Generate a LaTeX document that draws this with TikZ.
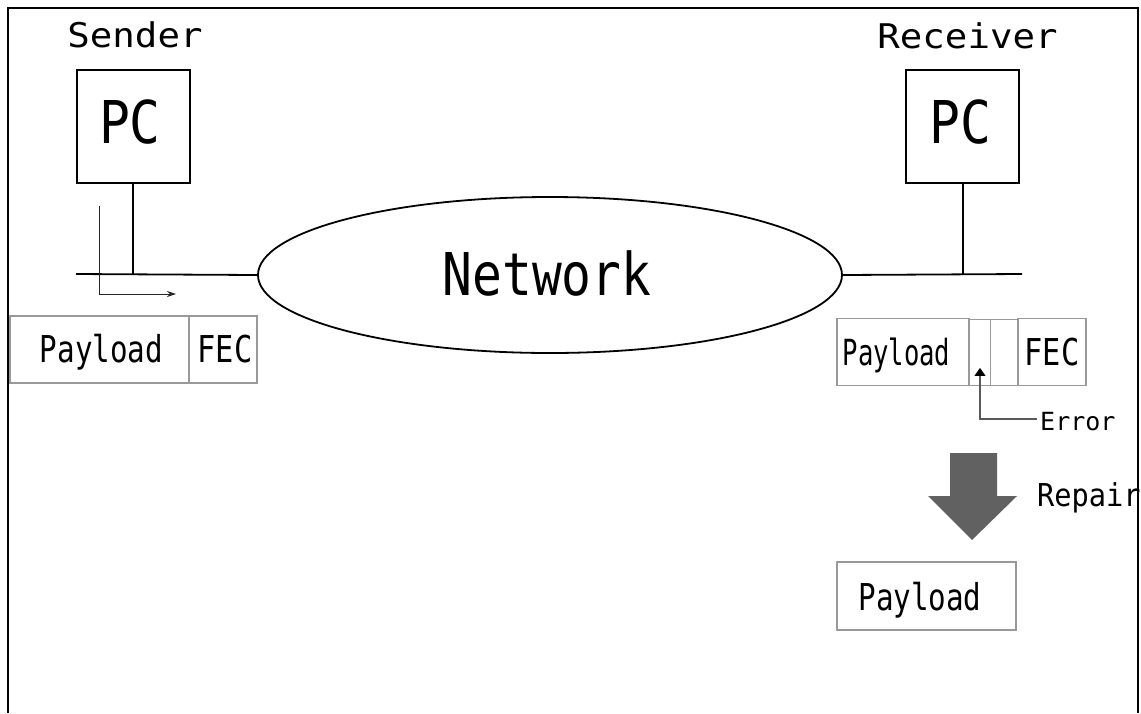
\documentclass[tikz,border=0pt]{standalone}
\usepackage{fontspec}
\usepackage{graphicx}
\usetikzlibrary{arrows.meta,shapes.geometric}
\newfontfamily\gfont{DejaVu Sans Mono}
\newcommand\tx[3]{{\gfont\fontsize{#1}{#1}\selectfont\scalebox{#2}[1]{#3}}}
\tikzset{
  pcbox/.style={draw, line width=1.8pt, minimum width=113pt, minimum height=113pt, inner sep=0pt},
  pkt/.style={draw=gray!80, line width=1.4pt, minimum height=67pt, inner sep=0pt},
  cell/.style={draw=gray!80, line width=0.9pt, minimum height=66pt, inner sep=0pt},
  bus/.style={line width=1.8pt},
  lbl/.style={anchor=base, inner sep=0pt},
  thin/.style={line width=1pt, draw=black!85}
}
\begin{document}
\begin{tikzpicture}[x=1pt,y=-1pt]
\useasboundingbox (0,0) rectangle (1141,713);
\fill[white] (0,0) rectangle (1141,713);
% frame
\draw[line width=1.8pt] (8,713) -- (8,8) -- (1138,8) -- (1138,713);

% sender
\node[lbl] (sl) at (135,47) {\tx{34}{1.1}{Sender}};
\node[pcbox] (spc) at (133.5,126.5) {};
\node[lbl] (spct) at (130,143) {\tx{59}{0.87}{PC}};
% receiver
\node[lbl] (rl) at (967.5,48) {\tx{34}{1.1}{Receiver}};
\node[pcbox] (rpc) at (962.5,126.5) {};
\node[lbl] (rpct) at (960,143) {\tx{59}{0.87}{PC}};

% network
\node[ellipse, draw, line width=1.8pt, minimum width=584pt, minimum height=156pt, inner sep=0pt] (net) at (550,275) {};
\node[lbl] (nett) at (547,295) {\tx{59}{0.84}{Network}};

% buses
\coordinate (sbl) at (76,274);
\coordinate (rbr) at (1022,274);
\coordinate (sj) at (133,274);
\coordinate (rj) at (963,274);
\draw[bus] (sbl) -- (net.west);
\draw[bus] (net.east) -- (rbr);
\draw[bus] (spc.south -| sj) -- (sj);
\draw[bus] (rpc.south -| rj) -- (rj);

% send arrow
\coordinate (a0) at (99,206);
\coordinate (a1) at (176,294);
\draw[thin, -{Stealth[length=9pt,width=6pt]}] (a0) |- (a1);

% sender packet
\node[pkt, minimum width=179pt] (sp) at (99.5,349.5) {};
\node[pkt, minimum width=68pt] (sf) at (223,349.5) {};
\node[lbl] (spt) at (101.5,362) {\tx{37}{0.79}{Payload}};
\node[lbl] (sft) at (225,362) {\tx{37}{0.82}{FEC}};

% receiver packet
\node[pkt, minimum width=132pt] (rp) at (903,352) {};
\node[cell, minimum width=21pt] (rc1) at (979.5,352) {};
\node[cell, minimum width=28pt] (rc2) at (1004,352) {};
\node[pkt, minimum width=68pt] (rf) at (1052,352) {};
\node[lbl] (rpt) at (896.5,365) {\tx{36}{0.71}{Payload}};
\node[lbl] (rft) at (1052,365) {\tx{37}{0.82}{FEC}};

% error marker
\node[isosceles triangle, shape border rotate=90, fill=black, minimum width=10pt, minimum height=8pt, inner sep=0pt, isosceles triangle apex angle=70] (tri) at (980,373) {};
\coordinate (ec) at (980,419);
\node[lbl, anchor=base west] (err) at (1040,430) {\tx{25}{1.0}{Error}};
\draw[draw=gray!70!black, line width=1.2pt] (tri.south) -- (ec) -- (1037,419);

% repair arrow
\fill[black!62] (950,453) -- (997,453) -- (997,496) -- (1017,496) -- (972,540) -- (928,496) -- (950,496) -- cycle;
\node[lbl, anchor=base west] (rep) at (1037,506) {\tx{31.5}{0.91}{Repair}};

% repaired packet
\node[pkt, minimum width=179pt, minimum height=68pt] (fp) at (926.5,596) {};
\node[lbl] (fpt) at (920,610) {\tx{37}{0.79}{Payload}};
\end{tikzpicture}
\end{document}
